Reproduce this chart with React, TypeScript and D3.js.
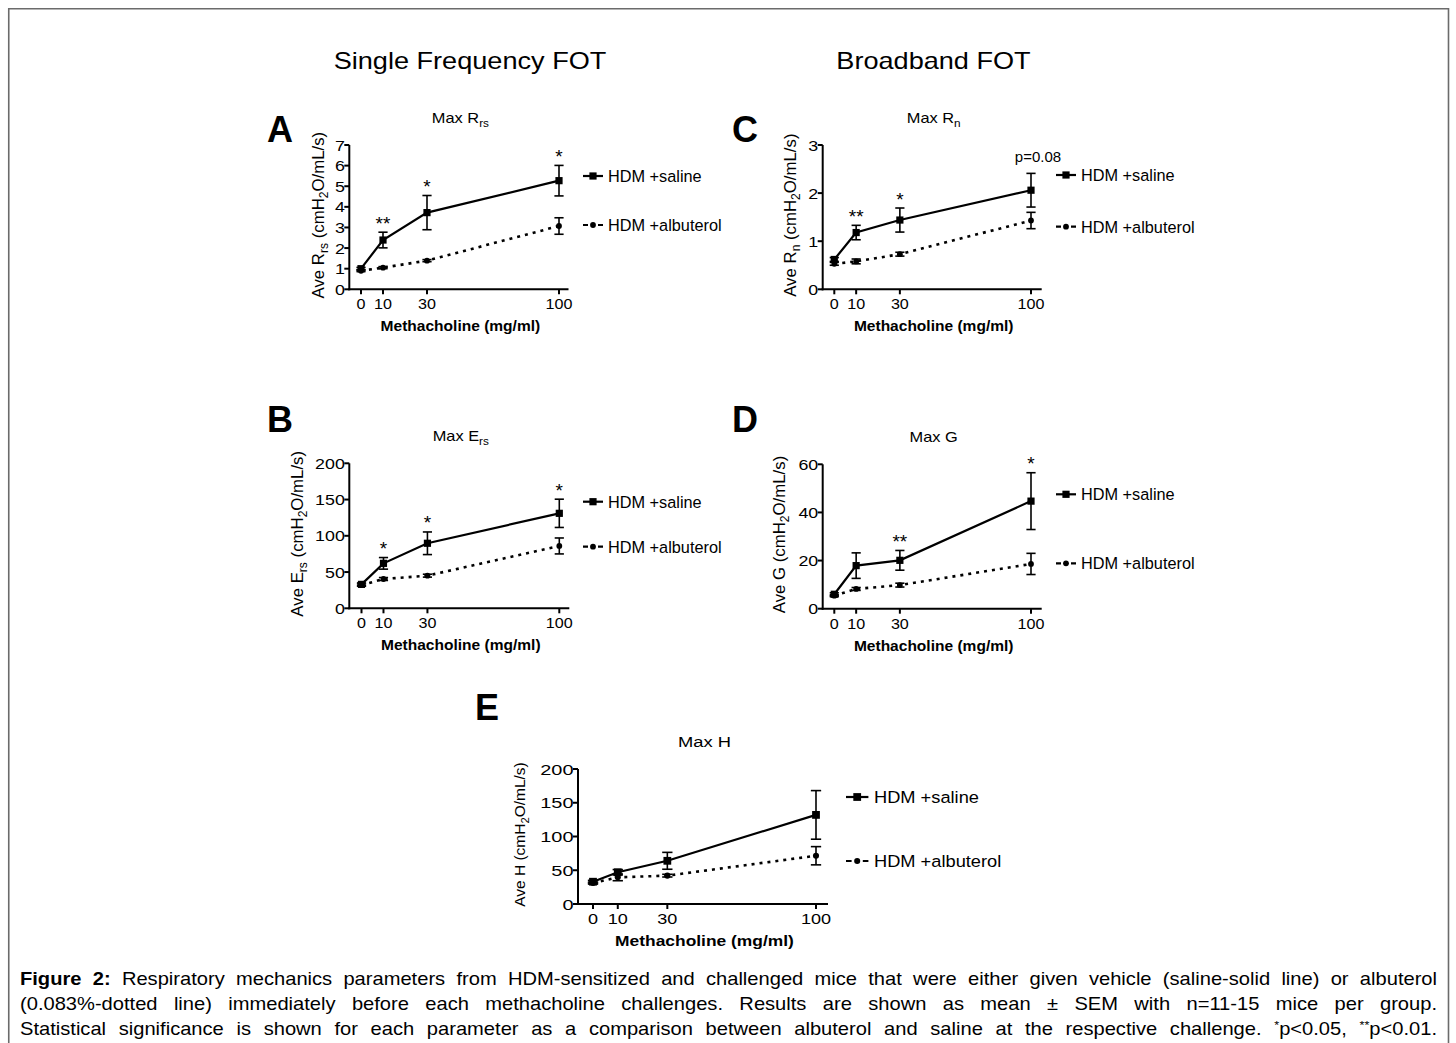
import React, { useLayoutEffect, useRef } from 'react';
import * as d3 from 'd3';

const FONT = '"Liberation Sans", Arial, Helvetica, sans-serif';

// ---------- data ----------
const doses = [0, 10, 30, 100];
const doseTickLabels = ['0', '10', '30', '100'];
// relative position of each dose along the x axis (the original axis is not linear)
const doseAxisPosition = [0, 1 / 9, 1 / 3, 1];
const seriesNames = ['HDM +saline', 'HDM +albuterol'];

const rrsSaline = [1.0, 2.39, 3.72, 5.27];
const rrsSalineSem = [0.06, 0.38, 0.83, 0.74];
const rrsAlbuterol = [0.9, 1.05, 1.39, 3.07];
const rrsAlbuterolSem = [0.04, 0.05, 0.05, 0.4];
const rrsTicks = [0, 1, 2, 3, 4, 5, 6, 7];
const rrsSig = ['', '**', '*', '*'];

const rnSaline = [0.62, 1.18, 1.44, 2.06];
const rnSalineSem = [0.04, 0.15, 0.25, 0.35];
const rnAlbuterol = [0.53, 0.58, 0.73, 1.43];
const rnAlbuterolSem = [0.03, 0.05, 0.04, 0.17];
const rnTicks = [0, 1, 2, 3];
const rnSig = ['', '**', '*', 'p=0.08'];

const ersSaline = [33, 62, 89.7, 131];
const ersSalineSem = [2, 8, 15.6, 19.5];
const ersAlbuterol = [32, 40.4, 45, 86];
const ersAlbuterolSem = [1.5, 2, 2, 11];
const ersTicks = [0, 50, 100, 150, 200];
const ersSig = ['', '*', '*', '*'];

const gSaline = [6.0, 17.9, 20.1, 44.7];
const gSalineSem = [0.6, 5.3, 4.1, 11.8];
const gAlbuterol = [5.4, 8.2, 9.8, 18.6];
const gAlbuterolSem = [0.4, 0.6, 0.8, 4.4];
const gTicks = [0, 20, 40, 60];
const gSig = ['', '', '**', '*'];

const hSaline = [33, 47, 64, 132];
const hSalineSem = [2, 4, 12.5, 36];
const hAlbuterol = [31, 39.5, 42, 71.5];
const hAlbuterolSem = [1.5, 5, 2, 13.5];
const hTicks = [0, 50, 100, 150, 200];
const hSig = ['', '', '', ''];

// ---------- layout ----------
type Part = { t: string; sub?: boolean };

interface PanelSpec {
  letter: string; letterX: number; letterY: number;
  title: Part[]; yLabel: Part[]; yLabelX: number; yLabelFs: number;
  axisX: number; xStart: number; xStop: number; xEnd: number;
  yBottom: number; yTop: number; yMax: number; yTicks: number[];
  saline: number[]; salineSem: number[]; albuterol: number[]; albuterolSem: number[];
  sig: string[];
  legendX: number; legendY: number[];
  sx: number;
}

const unitParts: Part[] = [{ t: ' (cmH' }, { t: '2', sub: true }, { t: 'O/mL/s)' }];

const panels: PanelSpec[] = [
  {
    letter: 'A', letterX: 267, letterY: 142,
    title: [{ t: 'Max R' }, { t: 'rs', sub: true }],
    yLabel: [{ t: 'Ave R' }, { t: 'rs', sub: true }, ...unitParts], yLabelX: 318, yLabelFs: 16.8,
    axisX: 349.3, xStart: 361, xStop: 559, xEnd: 568.5,
    yBottom: 289.3, yTop: 145, yMax: 7, yTicks: rrsTicks,
    saline: rrsSaline, salineSem: rrsSalineSem, albuterol: rrsAlbuterol, albuterolSem: rrsAlbuterolSem,
    sig: rrsSig, legendX: 583, legendY: [176, 225], sx: 1,
  },
  {
    letter: 'B', letterX: 267, letterY: 432,
    title: [{ t: 'Max E' }, { t: 'rs', sub: true }],
    yLabel: [{ t: 'Ave E' }, { t: 'rs', sub: true }, ...unitParts], yLabelX: 297, yLabelFs: 16.8,
    axisX: 349.3, xStart: 361.5, xStop: 559.3, xEnd: 569.3,
    yBottom: 608.3, yTop: 463.3, yMax: 200, yTicks: ersTicks,
    saline: ersSaline, salineSem: ersSalineSem, albuterol: ersAlbuterol, albuterolSem: ersAlbuterolSem,
    sig: ersSig, legendX: 583, legendY: [501.7, 546.7], sx: 1,
  },
  {
    letter: 'C', letterX: 732, letterY: 142,
    title: [{ t: 'Max R' }, { t: 'n', sub: true }],
    yLabel: [{ t: 'Ave R' }, { t: 'n', sub: true }, ...unitParts], yLabelX: 790, yLabelFs: 16.8,
    axisX: 822.7, xStart: 834.3, xStop: 1031, xEnd: 1041.7,
    yBottom: 289.3, yTop: 145, yMax: 3, yTicks: rnTicks,
    saline: rnSaline, salineSem: rnSalineSem, albuterol: rnAlbuterol, albuterolSem: rnAlbuterolSem,
    sig: rnSig, legendX: 1056, legendY: [175, 226.7], sx: 1,
  },
  {
    letter: 'D', letterX: 732, letterY: 432,
    title: [{ t: 'Max G' }],
    yLabel: [{ t: 'Ave G' }, ...unitParts], yLabelX: 779, yLabelFs: 16.8,
    axisX: 822.7, xStart: 834.3, xStop: 1031, xEnd: 1041.7,
    yBottom: 608.7, yTop: 464.3, yMax: 60, yTicks: gTicks,
    saline: gSaline, salineSem: gSalineSem, albuterol: gAlbuterol, albuterolSem: gAlbuterolSem,
    sig: gSig, legendX: 1056, legendY: [494.3, 563.3], sx: 1,
  },
  {
    letter: 'E', letterX: 475, letterY: 720,
    title: [{ t: 'Max H' }],
    yLabel: [{ t: 'Ave H' }, ...unitParts], yLabelX: 519, yLabelFs: 15.5,
    axisX: 578, xStart: 593, xStop: 816, xEnd: 828,
    yBottom: 904, yTop: 769, yMax: 200, yTicks: hTicks,
    saline: hSaline, salineSem: hSalineSem, albuterol: hAlbuterol, albuterolSem: hAlbuterolSem,
    sig: hSig, legendX: 846, legendY: [797, 861], sx: 1.12,
  },
];

function richTspans(parts: Part[], fs: number) {
  let shift = 0;
  return parts.map((p, i) => {
    const target = p.sub ? fs * 0.28 : 0;
    const dy = target - shift;
    shift = target;
    return (
      <tspan key={i} dy={dy} fontSize={p.sub ? fs * 0.72 : fs}>
        {p.t}
      </tspan>
    );
  });
}

function HText(props: {
  x: number; y: number; sx: number; anchor?: string; fs: number; weight?: string | number;
  children: React.ReactNode;
}) {
  const { x, y, sx, anchor = 'middle', fs, weight = 'normal', children } = props;
  return (
    <text
      transform={`translate(${x},${y}) scale(${sx},1)`}
      textAnchor={anchor}
      fontSize={fs}
      fontWeight={weight}
      fontFamily={FONT}
      fill="#000"
    >
      {children}
    </text>
  );
}

function Panel({ p }: { p: PanelSpec }) {
  const x = d3
    .scaleLinear()
    .domain(doses)
    .range(doseAxisPosition.map((f) => p.xStart + f * (p.xStop - p.xStart)));
  const y = d3.scaleLinear().domain([0, p.yMax]).range([p.yBottom, p.yTop]);
  const line = d3
    .line<number>()
    .x((_, i) => x(doses[i]))
    .y((d) => y(d));
  const sx = p.sx;
  const plotCx = (p.axisX + p.xEnd) / 2 + 1.5;
  const sq = 7.2 * (sx > 1 ? 1.08 : 1);
  const cr = 2.9 * (sx > 1 ? 1.05 : 1);
  const cap = 4.6 * sx;

  const errBars = (vals: number[], sems: number[], key: string) =>
    vals.map((v, i) => {
      const cx = x(doses[i]);
      const y1 = y(v + sems[i]);
      const y2 = y(v - sems[i]);
      return (
        <g key={key + i} stroke="#000" strokeWidth={1.6}>
          <line x1={cx} x2={cx} y1={y1} y2={y2} />
          <line x1={cx - cap} x2={cx + cap} y1={y1} y2={y1} />
          <line x1={cx - cap} x2={cx + cap} y1={y2} y2={y2} />
        </g>
      );
    });

  const lx = p.legendX;
  const lw = 20 * sx;

  return (
    <g>
      {/* panel letter */}
      <text x={p.letterX} y={p.letterY} fontSize={36} fontWeight="bold" fontFamily={FONT} fill="#000">
        {p.letter}
      </text>
      {/* title */}
      <HText x={plotCx} y={p.yTop - 22} sx={sx * 1.13} fs={14.5}>
        {richTspans(p.title, 14.5)}
      </HText>
      {/* axes */}
      <g stroke="#000" strokeWidth={2}>
        <line x1={p.axisX} x2={p.axisX} y1={y(0) + 1} y2={y(p.yMax)} />
        {p.yTicks.map((t) => (
          <line key={'yt' + t} x1={p.axisX - 5} x2={p.axisX} y1={y(t)} y2={y(t)} />
        ))}
        <line x1={p.axisX - 1} x2={p.xEnd} y1={y(0)} y2={y(0)} />
        {doses.map((d) => (
          <line key={'xt' + d} x1={x(d)} x2={x(d)} y1={y(0)} y2={y(0) + 5} />
        ))}
      </g>
      {p.yTicks.map((t) => (
        <HText key={'yl' + t} x={p.axisX - 4.5} y={y(t) + 5.6} sx={sx * 1.15} anchor="end" fs={15.5}>
          {String(t)}
        </HText>
      ))}
      {doses.map((d, i) => (
        <HText key={'xl' + d} x={x(d)} y={y(0) + 20} sx={sx * 1.04} fs={15.5}>
          {doseTickLabels[i]}
        </HText>
      ))}
      {/* x label */}
      <HText x={plotCx} y={y(0) + 42} sx={sx * 1.11} fs={14} weight="bold">
        Methacholine (mg/ml)
      </HText>
      {/* y label */}
      <text
        transform={`translate(${p.yLabelX + 5.5},${(p.yTop + p.yBottom) / 2 - 2}) rotate(-90)`}
        textAnchor="middle"
        fontFamily={FONT}
        fontSize={p.yLabelFs}
        fill="#000"
      >
        {richTspans(p.yLabel, p.yLabelFs)}
      </text>

      {/* albuterol: dotted */}
      <path d={line(p.albuterol) || ''} fill="none" stroke="#000" strokeWidth={2.6} strokeDasharray="3,5" />
      {errBars(p.albuterol, p.albuterolSem, 'ea')}
      {p.albuterol.map((v, i) => (
        <circle key={'ca' + i} cx={x(doses[i])} cy={y(v)} r={cr} fill="#000" />
      ))}

      {/* saline: solid */}
      <path d={line(p.saline) || ''} fill="none" stroke="#000" strokeWidth={2.2} />
      {errBars(p.saline, p.salineSem, 'es')}
      {p.saline.map((v, i) => (
        <rect key={'rs' + i} x={x(doses[i]) - sq / 2} y={y(v) - sq / 2} width={sq} height={sq} fill="#000" />
      ))}

      {/* significance */}
      {p.sig.map((s, i) => {
        if (!s) return null;
        const top = y(p.saline[i] + p.salineSem[i]);
        const isP = s.startsWith('p');
        return (
          <HText
            key={'sg' + i}
            x={x(doses[i]) + (isP ? 7 : 0)}
            y={isP ? top - 11.6 : top - 2.5}
            sx={sx}
            fs={isP ? 15 : 19}
          >
            {s}
          </HText>
        );
      })}

      {/* legend */}
      <g>
        <line x1={lx} x2={lx + lw} y1={p.legendY[0]} y2={p.legendY[0]} stroke="#000" strokeWidth={2.2} />
        <rect x={lx + lw / 2 - sq / 2} y={p.legendY[0] - sq / 2} width={sq} height={sq} fill="#000" />
        <HText x={lx + lw + 5 * sx} y={p.legendY[0] + 5.8} sx={sx} anchor="start" fs={16.3}>
          {seriesNames[0]}
        </HText>
        <line
          x1={lx}
          x2={lx + lw}
          y1={p.legendY[1]}
          y2={p.legendY[1]}
          stroke="#000"
          strokeWidth={2.2}
          strokeDasharray={`${5 * sx},${10 * sx},${5 * sx}`}
        />
        <circle cx={lx + lw / 2} cy={p.legendY[1]} r={cr} fill="#000" />
        <HText x={lx + lw + 5 * sx} y={p.legendY[1] + 5.8} sx={sx} anchor="start" fs={16.3}>
          {seriesNames[1]}
        </HText>
      </g>
    </g>
  );
}

const CAPTION_LEFT = 20;
const CAPTION_RIGHT = 1437;
const CAPTION_FS = 17.5;
const CAPTION_SX = 1.15;
const captionBaselines = [984.5, 1009.5, 1034.5];

export default function App() {
  const refs = useRef<(SVGTextElement | null)[]>([]);

  useLayoutEffect(() => {
    refs.current.forEach((el) => {
      if (!el) return;
      el.style.wordSpacing = '0px';
      const w = el.getComputedTextLength();
      const spaces = ((el.textContent || '').match(/ /g) || []).length;
      if (spaces > 0) {
        const ws = ((CAPTION_RIGHT - CAPTION_LEFT) / CAPTION_SX - w) / spaces;
        el.style.wordSpacing = `${ws}px`;
      }
    });
  }, []);

  const capProps = { fontFamily: FONT, fontSize: CAPTION_FS, fill: '#000', x: 0 };
  const capTransform = (y: number) => `translate(${CAPTION_LEFT},${y}) scale(${CAPTION_SX},1)`;

  return (
    <svg
      width={1456}
      height={1043}
      style={{ position: 'absolute', left: 0, top: 0, display: 'block', background: '#fff' }}
    >
      <rect x={0} y={0} width={1456} height={1043} fill="#fff" />
      {/* frame */}
      <path d="M8.75,1043 V8.75 H1448.5 V1043" fill="none" stroke="#6b6b6b" strokeWidth={1.6} />

      {/* section titles */}
      <text
        transform="translate(470,69) scale(1.13,1)"
        textAnchor="middle"
        fontFamily={FONT}
        fontSize={24}
        fill="#000"
      >
        Single Frequency FOT
      </text>
      <text
        transform="translate(933.5,69) scale(1.13,1)"
        textAnchor="middle"
        fontFamily={FONT}
        fontSize={24}
        fill="#000"
      >
        Broadband FOT
      </text>

      {panels.map((p) => (
        <Panel key={p.letter} p={p} />
      ))}

      {/* caption */}
      <text {...capProps} transform={capTransform(captionBaselines[0])} ref={(el) => { refs.current[0] = el; }}>
        <tspan fontWeight="bold">Figure 2:</tspan> Respiratory mechanics parameters from HDM-sensitized and
        challenged mice that were either given vehicle (saline-solid line) or albuterol
      </text>
      <text {...capProps} transform={capTransform(captionBaselines[1])} ref={(el) => { refs.current[1] = el; }}>
        (0.083%-dotted line) immediately before each methacholine challenges. Results are shown as mean ± SEM with
        n=11-15 mice per group.
      </text>
      <text {...capProps} transform={capTransform(captionBaselines[2])} ref={(el) => { refs.current[2] = el; }}>
        Statistical significance is shown for each parameter as a comparison between albuterol and saline at the
        respective challenge.{' '}
        <tspan dy={-6} fontSize={11}>*</tspan>
        <tspan dy={6}>p&lt;0.05, </tspan>
        <tspan dy={-6} fontSize={11}>**</tspan>
        <tspan dy={6}>p&lt;0.01.</tspan>
      </text>
    </svg>
  );
}
